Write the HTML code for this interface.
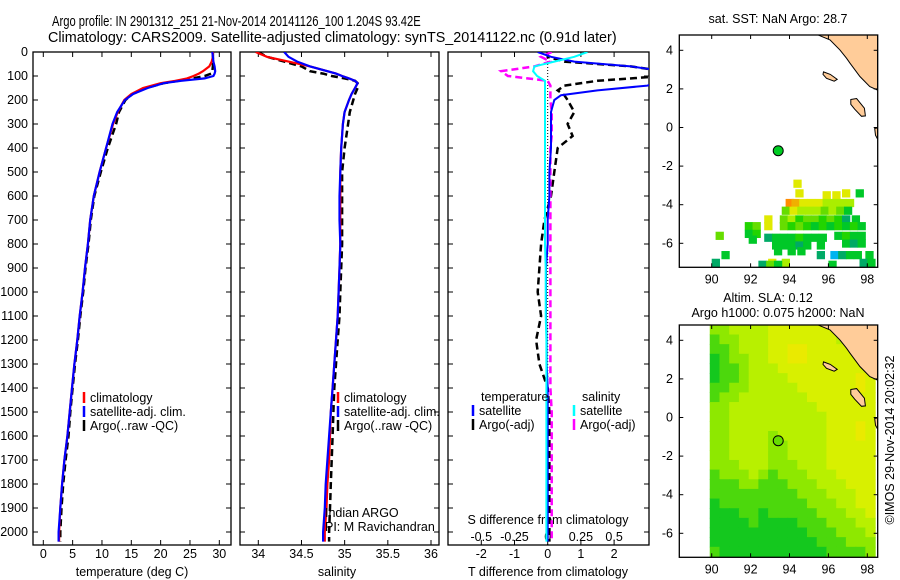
<!DOCTYPE html>
<html><head><meta charset="utf-8"><style>
body{margin:0;background:#fff}
svg{display:block;font-family:"Liberation Sans",sans-serif;font-size:12.5px}
</style></head><body>
<svg id="fig" width="900" height="580" viewBox="0 0 900 580" xmlns="http://www.w3.org/2000/svg">
<text id="t1" x="0" y="0" font-size="14.5">Argo profile: IN 2901312_251 21-Nov-2014 20141126_100 1.204S 93.42E</text>
<text id="t2" x="0" y="0" font-size="14.5">Climatology: CARS2009. Satellite-adjusted climatology: synTS_20141122.nc (0.91d later)</text>
</svg>
<script>
// ---------- data ----------
const depth=[0,20,40,60,80,90,100,110,120,130,150,175,200,250,300,400,500,600,700,800,900,1000,1100,1200,1300,1400,1500,1600,1700,1800,1900,2000,2040];
const tempClim=[28.9,28.9,28.7,28.3,27.2,26.5,25.6,24.5,22.5,20,17,15,13.8,12.7,11.9,10.7,9.6,8.6,8.0,7.6,7.1,6.7,6.2,5.8,5.3,4.9,4.5,4.1,3.6,3.2,2.9,2.7,2.7];
const tempSat=[28.8,28.9,29.0,29.2,29.3,29.2,29.0,27.5,23.5,20.5,17.8,15.3,13.9,12.6,11.8,10.7,9.6,8.6,8.0,7.6,7.1,6.7,6.2,5.8,5.3,4.9,4.5,4.1,3.6,3.2,2.9,2.6,2.6];
const tempArgo=[28.9,28.9,28.9,28.9,28.8,28.6,27.5,25.5,23,20.5,17.5,15.2,14,12.9,12.4,11,9.8,8.7,8.1,7.7,7.2,6.8,6.3,5.9,5.4,5.0,4.6,4.3,3.8,3.4,3.1,2.9,2.9];
const salClim=[33.97,34.1,34.35,34.6,34.8,34.9,34.97,35.05,35.12,35.15,35.12,35.08,35.05,35.0,34.98,34.96,34.95,34.95,34.95,34.95,34.94,34.93,34.92,34.9,34.88,34.86,34.84,34.83,34.82,34.8,34.79,34.77,34.77];
const salSat=[34.3,34.35,34.45,34.6,34.8,34.9,34.97,35.05,35.12,35.15,35.12,35.08,35.05,35.0,34.98,34.96,34.95,34.94,34.94,34.95,34.94,34.93,34.92,34.9,34.88,34.86,34.84,34.82,34.8,34.78,34.77,34.75,34.75];
const salArgo=[34.0,34.1,34.3,34.5,34.6,34.75,34.85,35.0,35.12,35.15,35.15,35.12,35.1,35.06,35.04,35.0,34.97,34.97,34.97,34.97,34.96,34.95,34.94,34.92,34.9,34.88,34.87,34.86,34.85,34.84,34.83,34.82,34.82];
const diffDepth=[0,20,40,60,80,100,120,140,160,180,200,250,300,350,400,500,600,700,800,900,1000,1100,1200,1300,1400,1500,1600,1700,1800,1900,2000,2040];
const tDiffSat=[-0.3,0.1,0.8,2.5,3.5,3.5,3.5,3,1.5,0.4,0.2,0.1,0.1,0.1,0.1,0.05,0.05,0,0,-0.05,-0.05,-0.05,-0.03,-0.03,0,0,0,0,0,0,0,0];
const tDiffArgo=[0,0,0.5,2.5,3.5,3.5,1.5,0.5,0.3,0.5,0.6,0.8,0.6,0.75,0.3,0.2,0.1,-0.1,-0.2,-0.25,-0.3,-0.2,-0.35,-0.25,0,0.05,0.05,0.05,0.05,0.05,0.05,0.05];
const sDiffSat=[0.3,0.2,0.05,-0.1,-0.11,-0.08,-0.02,-0.02,-0.02,-0.02,-0.02,-0.02,-0.02,-0.02,-0.02,-0.02,-0.02,-0.02,-0.02,-0.015,-0.015,-0.015,-0.01,-0.01,-0.01,-0.01,-0.01,-0.01,-0.01,-0.01,-0.01,-0.01];
const sDiffArgo=[0.03,-0.05,0.02,-0.1,-0.35,-0.3,0,0.02,0.02,0.02,0.02,0.03,0.03,0.03,0.02,0.02,0.02,0.02,0.02,0.02,0.02,0.02,0.02,0.02,0.02,0.03,0.03,0.03,0.03,0.03,0.03,0.03];
const depthTicks=[0,100,200,300,400,500,600,700,800,900,1000,1100,1200,1300,1400,1500,1600,1700,1800,1900,2000];
const tempTicks=[0,5,10,15,20,25,30];
const salTicks=[34,34.5,35,35.5,36];
const tDiffTicks=[-2,-1,0,1,2];
const sDiffTicks=[-0.5,-0.25,0,0.25,0.5];
const lonTicks=[90,92,94,96,98];
const latTicks=[4,2,0,-2,-4,-6];
const floatLon=93.42, floatLat=-1.204;
// SST cells: [lon, lat, colour-index]
const sstColors=['#00c828','#22d400','#66dd00','#aaee00','#e0ea00','#f0b000','#ff8c00','#00aa66','#00b4f0'];
const sstCells=[[94.4,-2.9,4],[94.5,-3.4,4],[95.9,-3.5,4],[96.4,-3.5,4],[96.9,-3.4,4],[97.6,-3.4,0],
[94.0,-3.9,6],[94.3,-3.9,5],[94.7,-3.9,4],[95.1,-3.9,4],[95.5,-3.9,4],[95.9,-3.9,3],[96.3,-3.9,3],[96.7,-3.9,3],[97.1,-3.9,3],
[93.8,-4.3,2],[94.2,-4.3,4],[94.6,-4.3,3],[95.0,-4.3,3],[95.4,-4.3,3],[95.8,-4.3,2],[96.2,-4.3,3],[96.6,-4.3,2],[97.0,-4.3,0],
[92.9,-4.75,4],[93.7,-4.75,2],[94.1,-4.75,3],[94.5,-4.75,1],[94.9,-4.75,2],[95.3,-4.75,2],[95.7,-4.75,1],[96.1,-4.75,2],[96.5,-4.75,1],[96.9,-4.75,7],[97.4,-4.75,0],
[91.9,-5.1,1],[92.3,-5.1,2],[92.9,-5.1,4],[93.7,-5.1,2],[94.1,-5.1,1],[94.5,-5.1,2],[94.9,-5.1,1],[95.3,-5.1,0],[95.7,-5.1,1],[96.1,-5.1,0],[96.5,-5.1,1],[96.9,-5.1,0],[97.3,-5.1,1],[97.7,-5.1,0],
[90.4,-5.6,2],[91.9,-5.5,0],[92.3,-5.5,1],[92.9,-5.7,7],[93.3,-5.7,0],[93.7,-5.7,0],[94.1,-5.7,0],[94.5,-5.7,1],[94.9,-5.7,0],[95.3,-5.7,0],[95.7,-5.7,0],[96.5,-5.6,0],[96.9,-5.6,1],[97.3,-5.6,0],[97.7,-5.6,0],
[92.1,-5.8,0],[93.3,-6.1,0],[93.7,-6.1,0],[94.1,-6.1,0],[94.5,-6.1,7],[94.9,-6.1,0],[95.6,-6.1,0],[96.9,-6.0,0],[97.3,-6.0,7],[97.7,-6.0,0],
[90.7,-6.6,0],[93.4,-6.4,0],[94.1,-6.4,0],[94.6,-6.4,0],[95.6,-6.6,7],[96.3,-6.6,8],[96.7,-6.6,7],[97.1,-6.6,0],[97.5,-6.6,0],[98.1,-6.6,0],
[90.2,-7.0,7],[93.1,-7.0,4],[93.8,-7.0,3],[92.6,-7.1,7],[93.0,-7.1,2],[93.4,-7.1,0],[96.2,-7.1,0],[97.8,-7.0,7],[98.2,-7.0,0]];
// SLA grid rows (lat 4.5 .. -7.0 step -0.5), columns lon 89.9 .. 98.3 step 0.5, level 0..5
const slaColors=['#14c81e','#4cd80c','#8ee800','#b8f000','#d8f000','#eaea00'];
const slaRows=["22333344444444333","12233344444443333","11233344554444433","01223344554444443","01123334444444444","01123333444444454","11223333344444454","12233333334444444","22333333333444444","22333333333344444","22333333333344454","22333323333344454","22333322333344444","22333322333344444","22233322233344444","12223212223334444","11122111222333444","11111111122233344","01111111112223344","00011011111222334","00001000011122233","00000000001112223","00000000000111222","10000000000011112"];
const sumatra=[[95.48,4.85],[95.48,4.79],[96.08,4.54],[96.59,4.02],[96.93,3.59],[97.11,3.33],[97.62,2.64],[98.13,2.12],[98.53,1.94],[98.53,4.85]];
const simeulue=[[95.75,2.88],[96.1,2.75],[96.45,2.5],[96.3,2.4],[95.9,2.55],[95.72,2.75]];
const nias=[[97.15,1.45],[97.45,1.5],[97.85,1.0],[97.9,0.6],[97.7,0.58],[97.35,0.95],[97.15,1.2]];
const smallIsle=[[98.38,-0.05],[98.53,-0.02],[98.53,-0.6],[98.42,-0.4]];

// ---------- helpers ----------
const NS='http://www.w3.org/2000/svg';
const svg=document.getElementById('fig');
function fitTitle(id,x,y,w){const t=document.getElementById(id);const bw=t.getComputedTextLength();t.setAttribute('transform','translate('+x+','+y+') scale('+(w/bw)+',1)');}
fitTitle('t1',52,26,369);
fitTitle('t2',48,42,569);
function mk(tag,attrs,parent){const e=document.createElementNS(NS,tag);for(const k in attrs)e.setAttribute(k,attrs[k]);(parent||svg).appendChild(e);return e;}
function txt(x,y,s,anchor,parent,size){const t=mk('text',{x:x,y:y,'text-anchor':anchor||'start'},parent);if(size)t.setAttribute('font-size',size);t.textContent=s;return t;}
const Y0=52, PY=0.24; function yD(d){return Y0+d*PY;}
const PB=545;

function panelFrame(x0,x1,name){
  const g=mk('g',{});
  
  
  const r=mk('rect',{x:x0,y:Y0,width:x1-x0,height:PB-Y0,fill:'none',stroke:'#000','stroke-width':1.3},g);
  
  
  depthTicks.forEach(d=>{const y=yD(d);
    mk('line',{x1:x0,x2:x0+5,y1:y,y2:y,stroke:'#000'},g);
    mk('line',{x1:x1-5,x2:x1,y1:y,y2:y,stroke:'#000'},g);});
  return g;
}
function xTicks(g,vals,fx,labelY,fmt){
  vals.forEach(v=>{const x=fx(v);
    mk('line',{x1:x,x2:x,y1:PB-5,y2:PB,stroke:'#000'},g);
    mk('line',{x1:x,x2:x,y1:Y0,y2:Y0+5,stroke:'#000'},g);
    if(labelY){const t=txt(x,labelY,fmt?fmt(v):String(v),'middle',g);
      
      }});
}
function series(g,vals,deps,fx,color,width,dash,name,clipId){
  const pts=vals.map((v,i)=>fx(v).toFixed(1)+','+yD(deps[i]).toFixed(1)).join(' ');
  const p=mk('polyline',{points:pts,fill:'none',stroke:color,'stroke-width':width},g);
  if(dash)p.setAttribute('stroke-dasharray',dash);
  if(clipId)p.setAttribute('clip-path','url(#'+clipId+')');
  
  
}
function legend(g,x,y,items){
  items.forEach((it,i)=>{const yy=y+i*14;
    mk('line',{x1:x,x2:x,y1:yy-10,y2:yy+1,stroke:it[1],'stroke-width':2.5},g);
    const t=txt(x+6,yy,it[0],'start',g);
    
    });
}
const defs=mk('defs',{});
function clip(id,x,y,w,h){const c=mk('clipPath',{id:id},defs);mk('rect',{x:x,y:y,width:w,height:h},c);}

// ---------- depth labels ----------
const dl=mk('g',{});


depthTicks.forEach(d=>{txt(28,yD(d)+4,String(d),'end',dl);});

// ---------- temperature panel ----------
const TX0=33,TX1=231; function xT(v){return 43.3+v*5.867;}
clip('cT',TX0,Y0,TX1-TX0,PB-Y0);
const gT=panelFrame(TX0,TX1,'temperature-panel');
xTicks(gT,tempTicks,xT,558);
const tl=txt(132,576,'temperature (deg C)','middle',gT);


series(gT,tempArgo,depth,xT,'#000',2.5,'7,4','temp-argo-line','cT');
series(gT,tempClim,depth,xT,'#f00',2.2,null,'temp-climatology-line','cT');
series(gT,tempSat,depth,xT,'#00f',2.2,null,'temp-satellite-line','cT');
legend(gT,84,402,[['climatology','#f00'],['satellite-adj. clim.','#00f'],['Argo(..raw -QC)','#000']]);

// ---------- salinity panel ----------
const SX0=240,SX1=439; function xS(v){return 258.3+(v-34)*86.35;}
clip('cS',SX0,Y0,SX1-SX0,PB-Y0);
const gS=panelFrame(SX0,SX1,'salinity-panel');
xTicks(gS,salTicks,xS,558);
const sl=txt(337,576,'salinity','middle',gS);


series(gS,salArgo,depth,xS,'#000',2.5,'7,4','sal-argo-line','cS');
series(gS,salClim,depth,xS,'#f00',2.2,null,'sal-climatology-line','cS');
series(gS,salSat,depth,xS,'#00f',2.2,null,'sal-satellite-line','cS');
legend(gS,338,402,[['climatology','#f00'],['satellite-adj. clim.','#00f'],['Argo(..raw -QC)','#000']]);
const pi1=txt(325,517,'Indian ARGO','start',gS);


const pi2=txt(325,531,'PI: M Ravichandran','start',gS);



// ---------- difference panel ----------
const DX0=448,DX1=649; function xDT(v){return 547.7+v*33.2;} function xDS(v){return 547.7+v*132.8;}
clip('cD',DX0,Y0,DX1-DX0,PB-Y0);
const gD=panelFrame(DX0,DX1,'difference-panel');
xTicks(gD,tDiffTicks,xDT,558);
sDiffTicks.forEach(v=>{const t=txt(xDS(v),541,String(v),'middle',gD);
  
  });
const sdt=txt(548,524,'S difference from climatology','middle',gD);


const tdt=txt(548,576,'T difference from climatology','middle',gD);


const zl=mk('line',{x1:xDT(0),x2:xDT(0),y1:Y0,y2:PB,stroke:'#000','stroke-dasharray':'1,2'},gD);


series(gD,tDiffArgo,diffDepth,xDT,'#000',2.5,'7,4','t-diff-argo-line','cD');
series(gD,sDiffArgo,diffDepth,xDS,'#f0f',2.5,'7,4','s-diff-argo-line','cD');
series(gD,tDiffSat,diffDepth,xDT,'#00f',2,null,'t-diff-satellite-line','cD');
series(gD,sDiffSat,diffDepth,xDS,'#0ff',2,null,'s-diff-satellite-line','cD');
const lt=txt(481,401,'temperature','start',gD);


const ls=txt(582,401,'salinity','start',gD);


legend(gD,473,415,[['satellite','#00f'],['Argo(-adj)','#000']]);
legend(gD,574,415,[['satellite','#0ff'],['Argo(-adj)','#f0f']]);

// ---------- maps ----------
const MX0=679.3,MX1=877.7; function xL(lon){return 711.7+(lon-90)*19.45;}
function drawMap(top,name,fillFn,markerFill){
  const bot=top+232.3;
  function yL(lat){return top+15.3+(4-lat)*19.3;}
  const g=mk('g',{});
  
  
  const cid='c'+name; clip(cid,MX0,top,MX1-MX0,bot-top);
  const inner=mk('g',{'clip-path':'url(#'+cid+')'},g);
  fillFn(inner,yL);
  [sumatra,simeulue,nias,smallIsle].forEach((poly,i)=>{
    const p=mk('polygon',{points:poly.map(q=>xL(q[0]).toFixed(1)+','+yL(q[1]).toFixed(1)).join(' '),fill:'#ffcc99',stroke:'#000','stroke-width':1},inner);
    
    });
  const m=mk('circle',{cx:xL(floatLon),cy:yL(floatLat),r:5,fill:markerFill,stroke:'#000','stroke-width':1},g);
  
  
  const r=mk('rect',{x:MX0,y:top,width:MX1-MX0,height:bot-top,fill:'none',stroke:'#000','stroke-width':1.3},g);
  
  
  lonTicks.forEach(v=>{const x=xL(v);
    mk('line',{x1:x,x2:x,y1:top,y2:top+4,stroke:'#000'},g);
    mk('line',{x1:x,x2:x,y1:bot-4,y2:bot,stroke:'#000'},g);
    const t=txt(x,bot+16,String(v),'middle',g);
    
    });
  latTicks.forEach(v=>{const y=yL(v);
    mk('line',{x1:MX0,x2:MX0+4,y1:y,y2:y,stroke:'#000'},g);
    mk('line',{x1:MX1-4,x2:MX1,y1:y,y2:y,stroke:'#000'},g);
    const t=txt(673,y+4,String(v),'end',g);
    
    });
  return g;
}
const g1=drawMap(35,'sst-map',(g,yL)=>{
  sstCells.forEach(c=>{const r=mk('rect',{x:xL(c[0]-0.2),y:yL(c[1]+0.2),width:0.4*19.45+0.5,height:0.4*19.3+0.5,fill:sstColors[c[2]]},g);
    
    });
},'#00cc22');
const st=txt(778,23,'sat. SST: NaN Argo: 28.7','middle',g1);



const g2=drawMap(325,'sla-map',(g,yL)=>{
  slaRows.forEach((row,ri)=>{const lat=4.5-ri*0.5;
    row.split('').forEach((ch,ci)=>{const lon=89.9+ci*0.5;
      const r=mk('rect',{x:xL(lon),y:yL(lat+0.3),width:0.5*19.45+0.6,height:0.5*19.3+0.6,fill:slaColors[+ch]},g);
      
      });});
},'#66dd00');
const s1=txt(768,302,'Altim. SLA: 0.12','middle',g2);


const s2=txt(778,317,'Argo h1000: 0.075 h2000: NaN','middle',g2);


const cr=txt(0,0,'©IMOS 29-Nov-2014 20:02:32','middle');
cr.setAttribute('transform','translate(894,440) rotate(-90)');


</script>
</body></html>
